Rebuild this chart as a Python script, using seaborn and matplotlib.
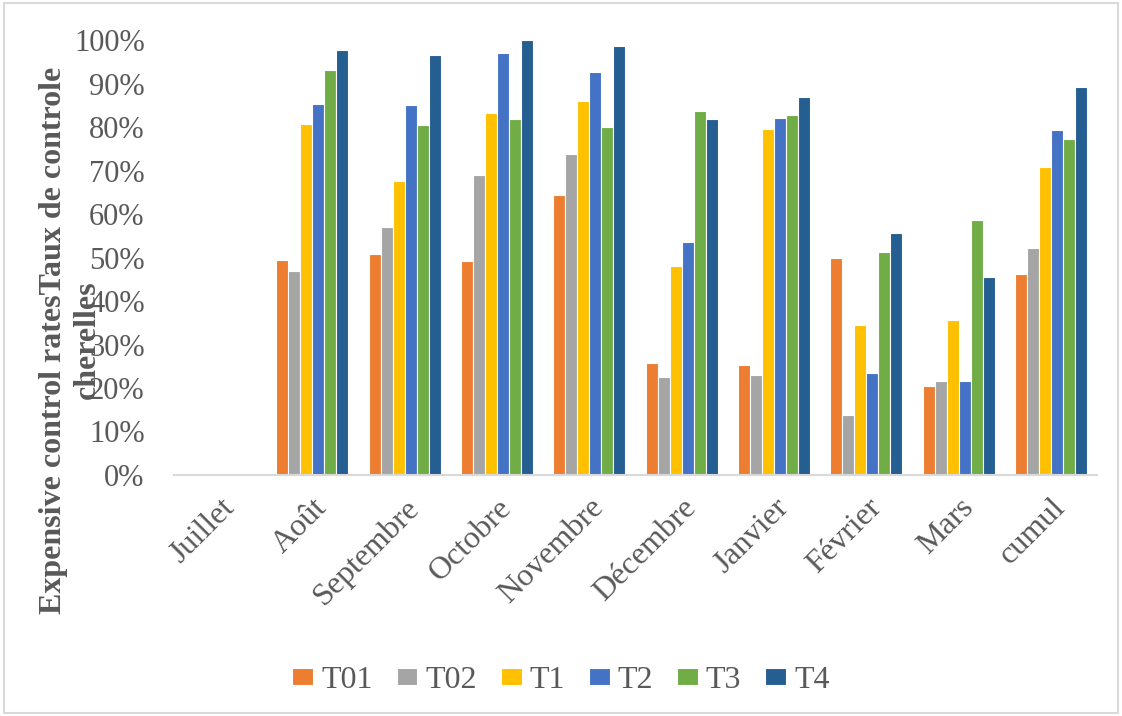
import numpy as np
import pandas as pd
import matplotlib
matplotlib.use("Agg")
import matplotlib.pyplot as plt
import seaborn as sns
from matplotlib.patches import Rectangle
from matplotlib.ticker import PercentFormatter

# Style
sns.set_theme(style="white")
plt.rcParams["font.family"] = ["Liberation Serif", "DejaVu Serif"]
gris = "#595959"

# Données (taux de contrôle, en fraction)
mois = ["Juillet", "Août", "Septembre", "Octobre", "Novembre",
        "Décembre", "Janvier", "Février", "Mars", "cumul"]
traitements = ["T01", "T02", "T1", "T2", "T3", "T4"]

t01 = [np.nan, 0.494, 0.507, 0.491, 0.643, 0.257, 0.254, 0.500, 0.205, 0.461]
t02 = [np.nan, 0.468, 0.569, 0.689, 0.737, 0.226, 0.231, 0.139, 0.216, 0.522]
t1 = [np.nan, 0.807, 0.675, 0.832, 0.860, 0.481, 0.795, 0.344, 0.356, 0.708]
t2 = [np.nan, 0.853, 0.850, 0.970, 0.926, 0.535, 0.820, 0.235, 0.216, 0.793]
t3 = [np.nan, 0.930, 0.804, 0.819, 0.800, 0.837, 0.827, 0.512, 0.586, 0.773]
t4 = [np.nan, 0.976, 0.965, 1.000, 0.986, 0.819, 0.868, 0.557, 0.456, 0.892]

couleurs = ["#ED7D31", "#A5A5A5", "#FFC000", "#4472C4", "#70AD47", "#255E91"]

# Format long pour seaborn
series = [t01, t02, t1, t2, t3, t4]
df = pd.DataFrame({
    "mois": mois * len(traitements),
    "traitement": np.repeat(traitements, len(mois)),
    "taux": np.concatenate(series),
})

fig = plt.figure(figsize=(11.22, 7.16), dpi=100)
ax = fig.add_axes([0.155, 0.3366, 0.823, 0.6075])

sns.barplot(data=df, x="mois", y="taux", hue="traitement", order=mois,
            hue_order=traitements, palette=couleurs, saturation=1, width=0.78,
            edgecolor="white", linewidth=0.8, errorbar=None, ax=ax)

ax.set_ylim(0, 1)
ax.set_yticks(np.arange(0, 1.01, 0.1))
ax.yaxis.set_major_formatter(PercentFormatter(1.0, decimals=0))
ax.tick_params(axis="y", labelsize=22, colors=gris, length=0, pad=21)
ax.tick_params(axis="x", labelsize=23, colors=gris, length=0, pad=13)
for lab in ax.get_xticklabels():
    lab.set_rotation(45)
    lab.set_ha("right")
    lab.set_rotation_mode("anchor")

for s in ["top", "right", "left"]:
    ax.spines[s].set_visible(False)
ax.spines["bottom"].set_color("#D9D9D9")
ax.spines["bottom"].set_linewidth(1.5)
ax.set_xlabel("")
ax.set_ylabel("")

# Titre d'axe (deux lignes superposées comme dans l'original)
fig.text(0.063, 1 - 340 / 716, "Expensive control ratesTaux de controle\ncherelles",
         rotation=90, ha="center", va="center", multialignment="center",
         fontsize=23, fontweight="bold", color=gris, linespacing=1.2)

# Légende
handles, labels = ax.get_legend_handles_labels()
ax.legend_.remove()
fig.legend(handles, labels, loc="center", bbox_to_anchor=(0.5, 1 - 680 / 716),
           ncol=6, frameon=False, fontsize=23, labelcolor=gris,
           handlelength=0.65, handleheight=0.45, handletextpad=0.25,
           columnspacing=0.75)

# Cadre de la figure
fig.patches.append(Rectangle((0.004, 0.004), 0.992, 0.992, transform=fig.transFigure,
                             fill=False, edgecolor="#D9D9D9", linewidth=1.5))

fig.savefig("out.png", dpi=100)
